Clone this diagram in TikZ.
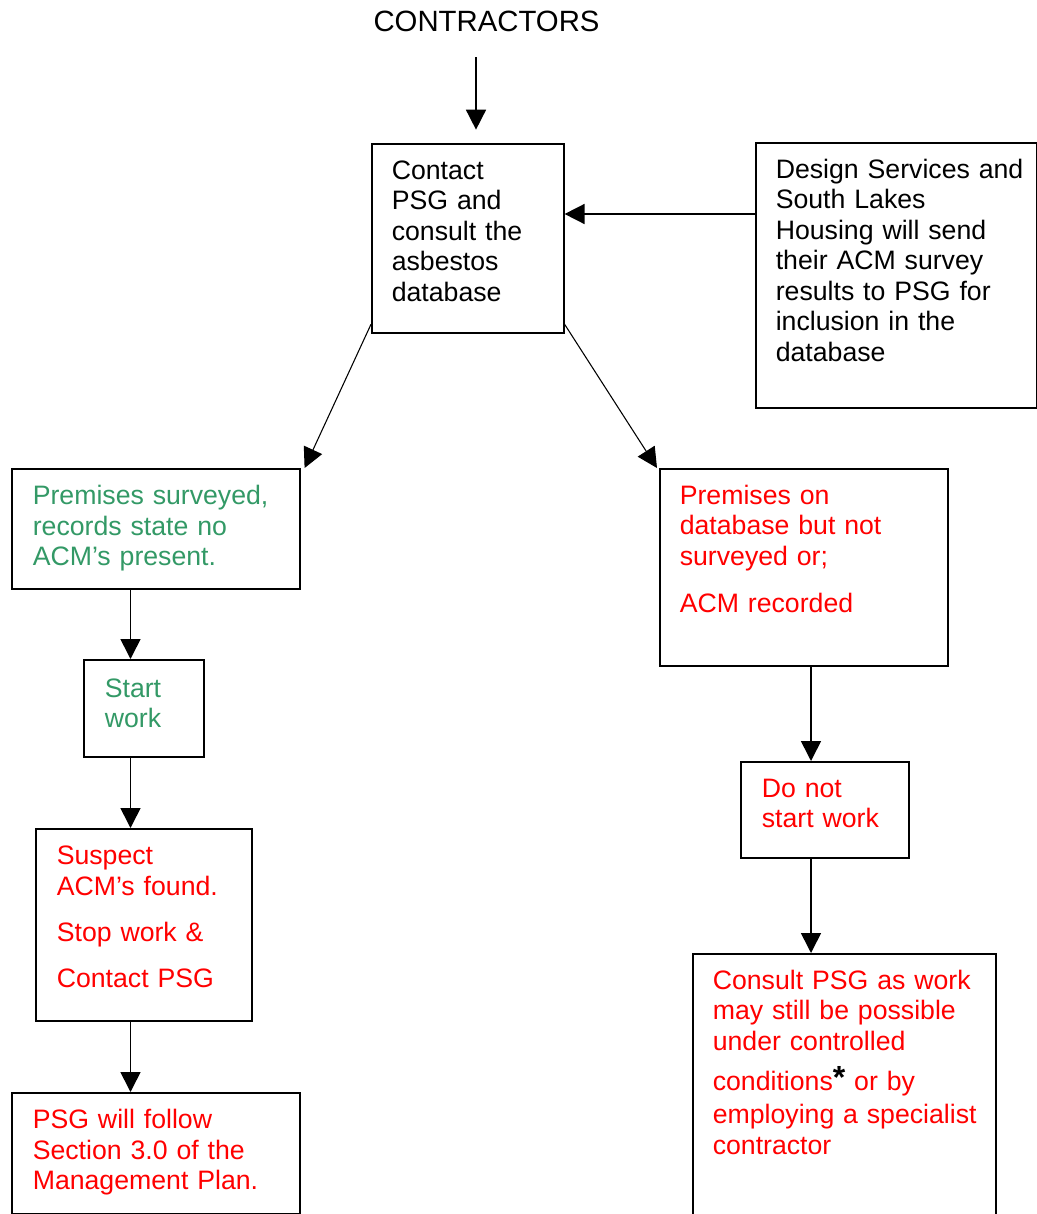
\documentclass[tikz,border=0pt]{standalone}
\usepackage{fontspec}
\setmainfont{Liberation Sans}
\usepackage{xcolor}
\usetikzlibrary{arrows.meta, positioning}
\definecolor{okgreen}{RGB}{51,153,102}
\definecolor{stopred}{RGB}{255,0,0}

\begin{document}
\begin{tikzpicture}[x=0.75pt, y=-0.75pt,
    box/.style={draw, line width=1.2pt, anchor=north west, inner sep=0pt, align=left,
        text height=26.5pt, font=\fontsize{20}{22.9}\selectfont},
    flow/.style={line width=1.2pt, -{Triangle[length=15pt, width=15pt]}},
    slant/.style={line width=0.8pt, -{Triangle[length=15pt, width=15pt]}}]
    \useasboundingbox (0,0) rectangle (1037,1214);
    \node[font=\fontsize{22}{26}\selectfont, anchor=base] (contractors) at (486.5,31.7) {CONTRACTORS};
    \node[box, minimum width=144pt, text width=114pt, text depth=115.25pt] (contact) at (371,143) {Contact\\PSG and\\consult the\\asbestos\\database};
    \node[box, minimum width=210.75pt, text width=180.75pt, text depth=172.25pt] (design) at (755,142) {\mbox{Design Services and}\\South Lakes\\Housing will send\\their ACM survey\\results to PSG for\\inclusion in the\\database};
    \node[box, text=okgreen, minimum width=216pt, text width=184.5pt, text height=27pt, text depth=63pt] (surveyed) at (11,468) {Premises surveyed,\\records state no\\ACM’s present.};
    \node[box, text=okgreen, minimum width=90pt, text width=58.5pt, text height=28pt, text depth=44.75pt] (start) at (83,659) {Start\\work};
    \node[box, text=stopred, minimum width=162pt, text width=130.5pt, text height=27pt, text depth=117pt] (suspect) at (35,828) {Suspect\\ACM’s found.\\[11.5pt]Stop work \&\\[11.5pt]Contact PSG};
    \node[box, text=stopred, minimum width=216pt, text width=184.5pt, text height=27pt, text depth=63.75pt] (follow) at (11,1092) {PSG will follow\\Section 3.0 of the\\Management Plan.};
    \node[box, text=stopred, minimum width=216pt, text width=186pt, text depth=121.25pt] (ondb) at (659,468) {Premises on\\database but not\\surveyed or;\\[12.5pt]ACM recorded};
    \node[box, text=stopred, minimum width=126pt, text width=94.5pt, text depth=45.5pt] (donot) at (740,761) {Do not\\start work};
    \node[box, text=stopred, minimum width=227.25pt, text width=197.25pt, text depth=183.5pt] (consult) at (692,953) {Consult PSG as work\\may still be possible\\under controlled\\[7.5pt]conditions{\color{black}\raisebox{2pt}{\fontsize{24}{24}\selectfont\textbf{*}}} or by\\[2pt]\mbox{employing a specialist}\\contractor};
    \coordinate (drop) at (476,57);
    \coordinate (lcol) at (130.5,0);
    \coordinate (rcol) at (811,0);
    \draw[flow, shorten >=10pt] (drop) -- (drop |- contact.north);
    \draw[flow] ([yshift=-54pt]design.north west) coordinate (feed) -- (feed -| contact.east);
    \draw[slant] ([yshift=7pt]contact.south west) -- ([xshift=3pt]surveyed.north east);
    \draw[slant] ([yshift=7pt]contact.south east) -- ([xshift=-1.5pt]ondb.north west);
    \draw[flow] (surveyed.south -| lcol) -- (start.north -| lcol);
    \draw[flow] (start.south -| lcol) -- (suspect.north -| lcol);
    \draw[flow] (suspect.south -| lcol) -- (follow.north -| lcol);
    \draw[flow] (ondb.south -| rcol) -- (donot.north -| rcol);
    \draw[flow] (donot.south -| rcol) -- (consult.north -| rcol);
\end{tikzpicture}
\end{document}
